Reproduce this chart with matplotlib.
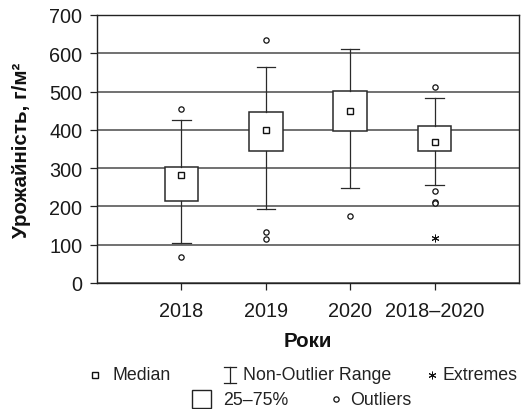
import numpy as np
import matplotlib
matplotlib.use('Agg')
import matplotlib.pyplot as plt
from matplotlib.lines import Line2D
from matplotlib.patches import Rectangle

plt.rcParams['font.family'] = ['Liberation Sans', 'DejaVu Sans']

# Data
years = ['2018', '2019', '2020', '2018–2020']
q1 = [214, 346, 396, 346]
q3 = [304, 447, 502, 409]
medians = [281, 399, 450, 367]
whislo = [104, 194, 249, 257]
whishi = [427, 565, 611, 482]
outliers = [[454, 68], [635, 133, 114], [174], [511, 240, 212, 209]]
extremes = [[], [], [], [117]]

fig = plt.figure(figsize=(5.22, 4.10), dpi=100)
ax = fig.add_axes([97/522, 1 - 284/410, 422/522, 268/410])

pos = np.arange(1, len(years) + 1)
stats = []
for i in range(len(years)):
    stats.append(dict(med=medians[i], q1=q1[i], q3=q3[i],
                      whislo=whislo[i], whishi=whishi[i], fliers=[]))

ax.bxp(stats, positions=pos, widths=0.4, showfliers=False, patch_artist=True,
       boxprops=dict(facecolor='white', edgecolor='#2a2a2a', lw=1.1),
       whiskerprops=dict(color='#2a2a2a', lw=0.9),
       capprops=dict(color='#2a2a2a', lw=0.9),
       capwidths=0.22,
       medianprops=dict(lw=0), zorder=3)

ax.plot(pos, medians, ls='none', marker='s', ms=4.2, mfc='white',
        mec='#111111', mew=1.0, zorder=5)
for p, vals in zip(pos, outliers):
    ax.plot([p] * len(vals), vals, ls='none', marker='o', ms=3.8,
            mfc='white', mec='#111111', mew=0.9, zorder=5)
for p, vals in zip(pos, extremes):
    if vals:
        ax.plot([p] * len(vals), vals, ls='none', marker=(6, 2, 0), ms=5.5,
                mec='#111111', mew=0.7, zorder=5)

ax.set_xlim(0, 5)
ax.set_ylim(0, 700)
ax.set_yticks(np.arange(0, 701, 100))
ax.set_xticks(pos)
ax.set_xticklabels(years)
ax.yaxis.grid(True, color='#4a4a4a', lw=1.1)
ax.set_axisbelow(True)
for s in ax.spines.values():
    s.set_color('#222222')
    s.set_linewidth(1.0)
ax.tick_params(direction='out', length=5, width=0.9, color='#222222',
               labelsize=14.3, labelcolor='#1a1a1a', pad=5.5)
ax.tick_params(axis='x', pad=8)

ax.set_xlabel('Роки', fontsize=14.8, fontweight='bold', color='#111111')
ax.xaxis.set_label_coords(0.5, -0.178)
ax.set_ylabel('Урожайність, г/м²', fontsize=14.8, fontweight='bold',
              color='#111111', va='center')
ax.yaxis.set_label_coords(-0.178, 0.5)

# legend drawn by hand (irregular two-row layout)
def fx(px):
    return px / 522

def fy(py):
    return 1 - py / 410

lkw = dict(fontsize=12.8, va='center', ha='left', color='#222222')
fig.add_artist(Line2D([fx(95)], [fy(376)], ls='none', marker='s', ms=4.2,
                      mfc='white', mec='#111111', mew=1.0))
fig.text(fx(112), fy(376), 'Median', **lkw)
fig.add_artist(Line2D([fx(230), fx(230)], [fy(368), fy(384)], color='#222222', lw=0.9))
fig.add_artist(Line2D([fx(224), fx(236)], [fy(368), fy(368)], color='#222222', lw=0.9))
fig.add_artist(Line2D([fx(224), fx(236)], [fy(384), fy(384)], color='#222222', lw=0.9))
fig.text(fx(243), fy(376), 'Non-Outlier Range', **lkw)
fig.add_artist(Line2D([fx(432)], [fy(376)], ls='none', marker=(6, 2, 0), ms=5.5,
                      mec='#111111', mew=0.7))
fig.text(fx(442), fy(376), 'Extremes', **lkw)
fig.add_artist(Rectangle((fx(192), fy(409)), fx(19), 18 / 410, facecolor='white',
                         edgecolor='#222222', lw=1.0))
fig.text(fx(223), fy(401), '25–75%', **lkw)
fig.add_artist(Line2D([fx(336)], [fy(400)], ls='none', marker='o', ms=3.8,
                      mfc='white', mec='#111111', mew=0.9))
fig.text(fx(350), fy(401), 'Outliers', **lkw)

fig.savefig('out.png', dpi=100)
